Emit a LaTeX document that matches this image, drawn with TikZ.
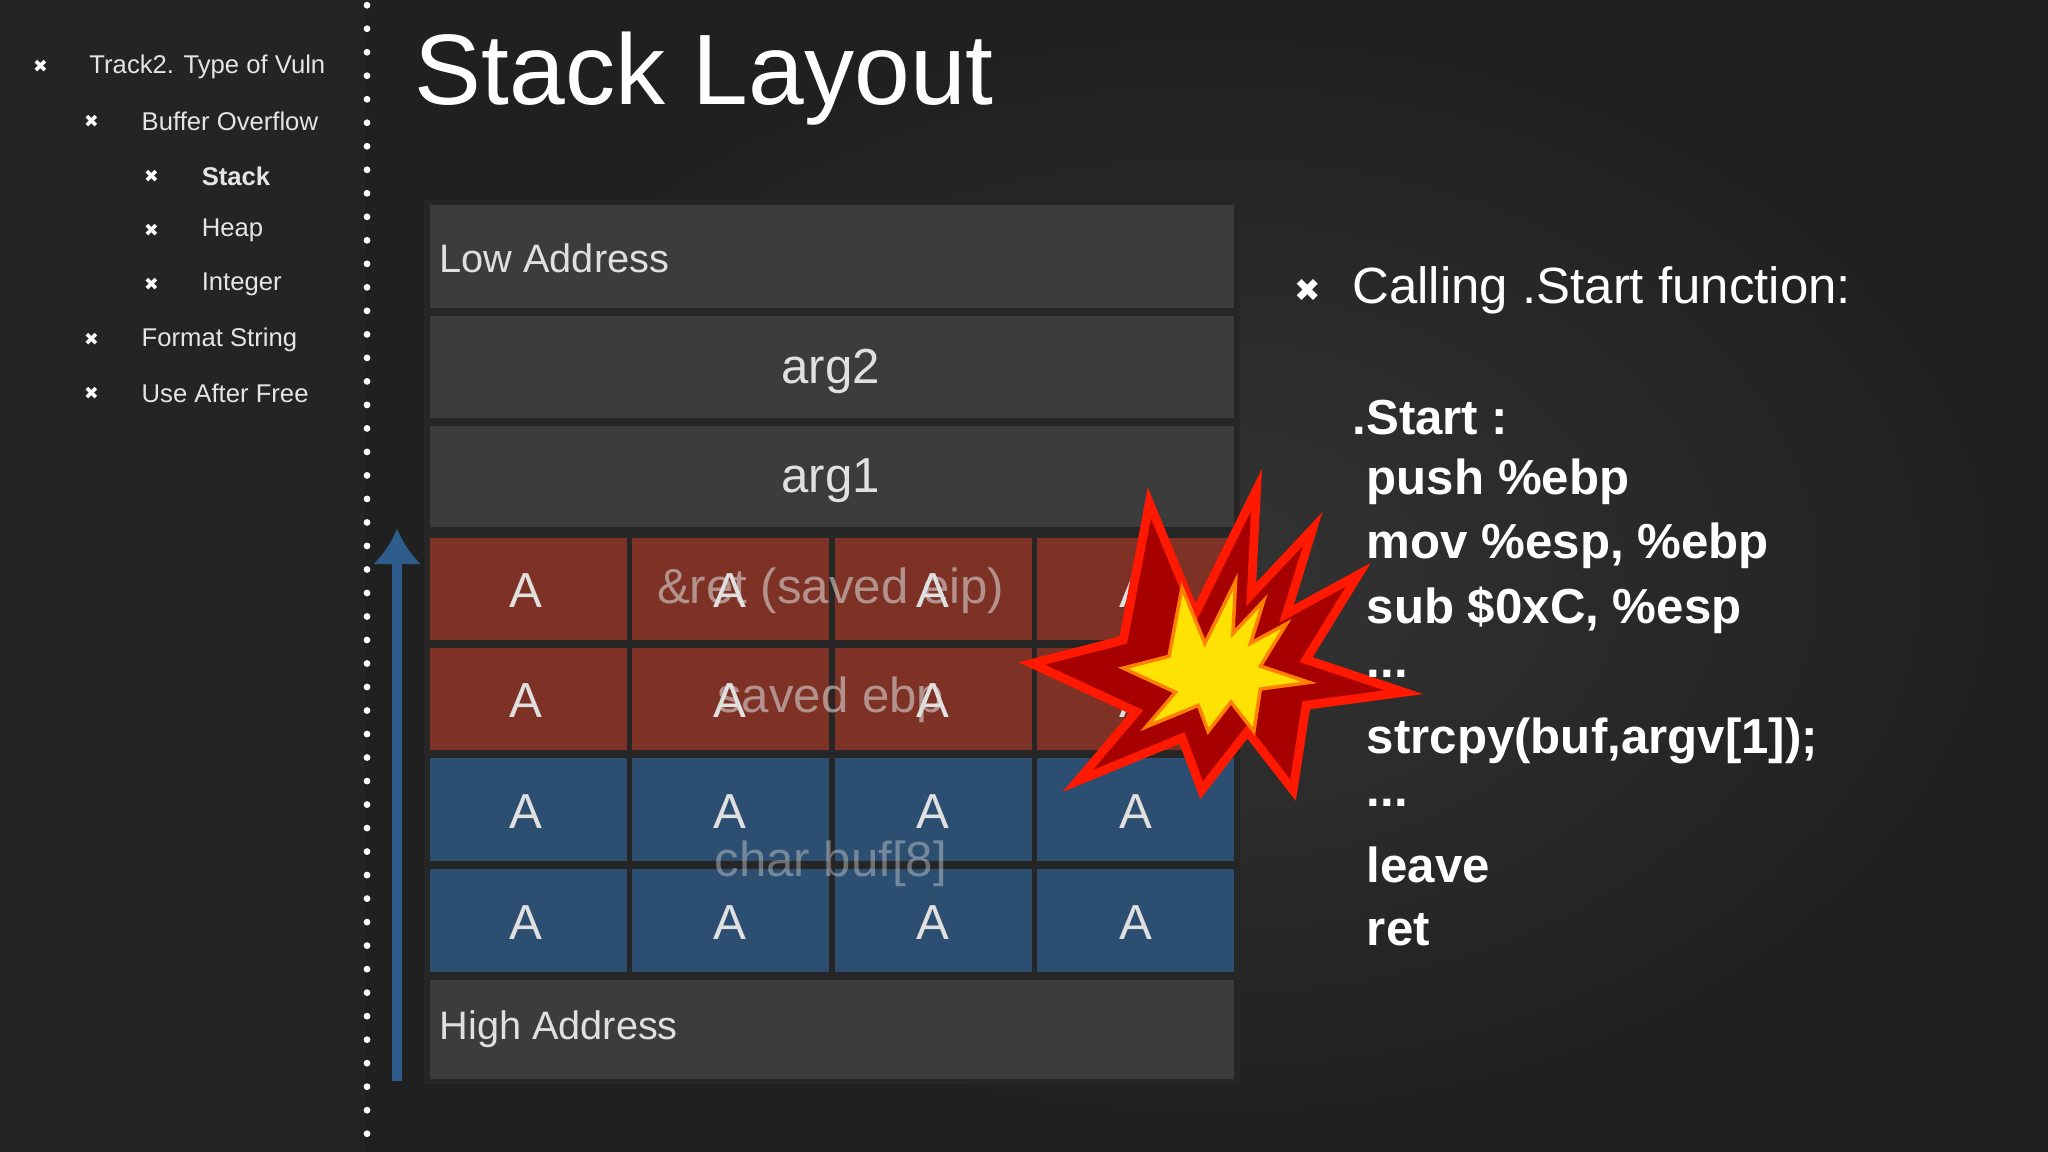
\documentclass[tikz,border=0pt]{standalone}
\usepackage{fontspec}
\usetikzlibrary{arrows.meta}
\setmainfont{Liberation Sans}
\newfontfamily\dejavu{DejaVu Sans}
\definecolor{redcell}{HTML}{7E3226}
\definecolor{bluecell}{HTML}{2C4E70}
\definecolor{graycell}{HTML}{3C3C3C}
\definecolor{arrowblue}{HTML}{2E5D8C}
\begin{document}
\begin{tikzpicture}[x=0.01306cm,y=-0.01306cm,
  ctext/.style={text=white!88!black,font=\fontsize{14}{16}\selectfont},
  side/.style={text=white!90!black,anchor=west,font=\fontsize{7.3}{9}\selectfont},
  bul/.style={text=white,font=\dejavu\fontsize{5}{6}\selectfont},
  code/.style={text=white,anchor=west,font=\bfseries\fontsize{14}{16}\selectfont}]
\useasboundingbox (0,0) rectangle (1568,882);
\fill[black!86] (0,0) rectangle (1568,882);
\shade[inner color=black!78,outer color=black!88,opacity=0.8] (280,0) rectangle (1568,882);
% dotted separator
\foreach \yy in {4,22,...,882} \fill[white] (281,\yy) circle (2.6);
% sidebar
\node[bul] (b1) at (31,51) {✖}; \node[side] (t1) at (59,51) {Track2. Type of Vuln};
\node[bul] (b2) at (70,93) {✖}; \node[side] (t2) at (99,93) {Buffer Overflow};
\node[bul] (b3) at (116,135) {✖}; \node[side,font=\bfseries\fontsize{7.3}{9}\selectfont] (t3) at (145,135) {Stack};
\node[bul] (b4) at (116,176) {✖}; \node[side] (t4) at (145,176) {Heap};
\node[bul] (b5) at (116,218) {✖}; \node[side] (t5) at (145,218) {Integer};
\node[bul] (b6) at (70,260) {✖}; \node[side] (t6) at (99,260) {Format String};
\node[bul] (b7) at (70,301) {✖}; \node[side] (t7) at (99,301) {Use After Free};
% title
\node[anchor=west,text=white,font=\fontsize{28.5}{32}\selectfont] (title) at (308,60) {Stack Layout};
% table
\tikzset{row/.style={draw=black!85,line width=1.6pt}}
\fill[graycell,row] (327,155) rectangle (947,238);
\fill[graycell,row] (327,240) rectangle (947,322);
\fill[graycell,row] (327,324) rectangle (947,406);
\fill[graycell,row] (327,748) rectangle (947,828);
\foreach \x in {327,482,637,792}{
  \fill[redcell,row] (\x,410) rectangle ++(155,82);
  \fill[redcell,row] (\x,494) rectangle ++(155,82);
  \fill[bluecell,row] (\x,578) rectangle ++(155,83);
  \fill[bluecell,row] (\x,663) rectangle ++(155,83);
}
\node[ctext,anchor=west,font=\fontsize{11.3}{13}\selectfont] (low) at (327,198) {Low Address};
\node[ctext,anchor=west,font=\fontsize{11.3}{13}\selectfont] (high) at (327,788) {High Address};
\node[ctext] (arg2) at (636,284) {arg2};
\node[ctext] (arg1) at (636,368) {arg1};
\node[ctext,text opacity=0.55] (ret) at (636,452) {\&ret (saved eip)};
\node[ctext,text opacity=0.55] (ebp) at (636,536) {saved ebp};
\node[ctext,text opacity=0.4] (buf) at (636,661) {char buf[8]};
\foreach \x in {403,559,714,870}
  \foreach \yy in {452,536,621,706}
    \node[ctext] at (\x,\yy) {A};
% arrow
\coordinate (abot) at (304,828); \coordinate (atop) at (304,405);
\draw[arrowblue,line width=3pt,-{Latex[length=10pt,width=14pt]}] (abot) -- (atop);
% explosion
\def\boom{(962,375)--(958,455)--(1005,405)--(985,470)--(1040,440)--(1000,505)--(1075,530)--(1000,540)--(990,605)--(955,560)--(920,605)--(905,565)--(825,598)--(870,545)--(790,508)--(860,490)--(880,385)--(915,470)--cycle}
\filldraw[fill=red!65!black,draw=red!80!orange,line width=2.5pt,line join=miter] \boom;
\begin{scope}[shift={(930,515)},scale=0.5,shift={(-930,-515)}]
\filldraw[fill=yellow!85!orange,draw=orange,line width=1pt] \boom;
\end{scope}
% right text
\node[bul,font=\dejavu\fontsize{9}{10}\selectfont] (rb) at (1001,222) {✖};
\node[anchor=west,text=white,font=\fontsize{14.5}{17}\selectfont] (call) at (1026,222) {Calling .Start function:};
\node[code] (c0) at (1026,320) {.Start :};
\node[code] (c1) at (1037,369) {push \%ebp};
\node[code] (c2) at (1037,418) {mov \%esp, \%ebp};
\node[code] (c3) at (1037,467) {sub \$0xC, \%esp};
\node[code] (c4) at (1037,516) {...};
\node[code] (c5) at (1037,567) {strcpy(buf,argv[1]);};
\node[code] (c6) at (1037,615) {...};
\node[code] (c7) at (1037,662) {leave};
\node[code] (c8) at (1037,712) {ret};
\end{tikzpicture}
\end{document}
